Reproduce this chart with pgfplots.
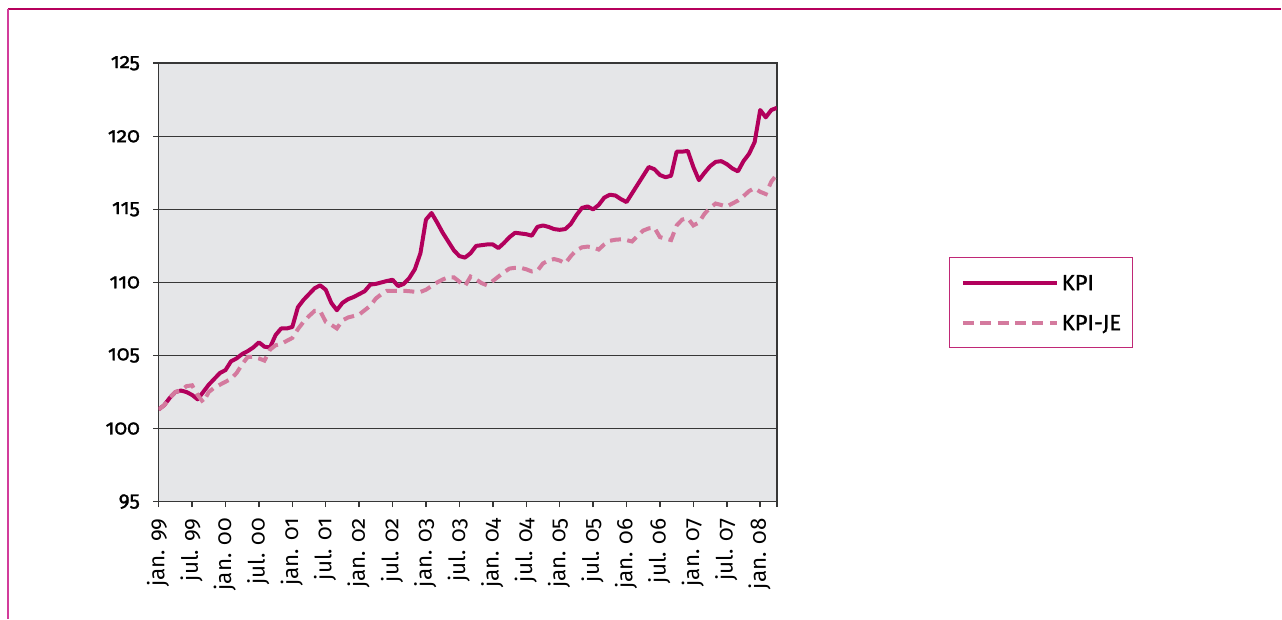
\documentclass[border=0pt]{standalone}
\usepackage{fontspec}
\setmainfont{Fira Sans}[Numbers=OldStyle]
\usepackage{pgfplots}
\pgfplotsset{compat=1.18}
\definecolor{kpi}{RGB}{178,0,92}
\definecolor{kpije}{RGB}{212,122,158}
\definecolor{bggray}{RGB}{229,230,232}
\definecolor{gridc}{RGB}{55,55,55}
\definecolor{legframe}{RGB}{192,40,118}
\definecolor{topb}{RGB}{182,0,92}
\definecolor{leftb}{RGB}{210,60,155}
\begin{document}
\begin{tikzpicture}
\path (0,0) rectangle (641bp,309.5bp);
\draw[topb, line width=1bp] (4bp,304.85bp) -- (641bp,304.85bp);
\draw[leftb, line width=1bp] (4bp,0) -- (4bp,304.85bp);
\begin{axis}[
  at={(79.375bp,58.5bp)}, anchor=south west,
  scale only axis, width=309.375bp, height=219.35bp,
  xmin=0, xmax=111, ymin=95, ymax=125,
  axis background/.style={fill=bggray},
  axis line style={gridc, line width=0.75bp},
  ymajorgrids, major grid style={gridc, line width=0.75bp},
  tick align=outside, major tick length=2.7bp,
  xtick pos=bottom, ytick pos=left,
  tick style={gridc, line width=0.75bp},
  xtick={0,6,...,108},
  extra x ticks={111}, extra x tick labels={},
  xticklabels={jan. 99, jul. 99, jan. 00, jul. 00, jan. 01, jul. 01, jan. 02, jul. 02, jan. 03, jul. 03, jan. 04, jul. 04, jan. 05, jul. 05, jan. 06, jul. 06, jan. 07, jul. 07, jan. 08},
  xticklabel style={rotate=90, anchor=east, font=\fontsize{11.2bp}{12bp}\selectfont, inner sep=0pt, xshift=-5.5bp, yshift=0.3bp},
  ytick={95,100,...,125},
  yticklabel style={font=\fontsize{10.5bp}{12bp}\selectfont\addfontfeature{FakeBold=1.2}, inner sep=0pt, xshift=-6.5bp},
  /pgf/number format/assume math mode=true,
  legend style={at={(1.2788,0.5578)}, anchor=north west, draw=legframe, line width=0.6bp, fill=white,
    inner xsep=5.5bp, inner ysep=2.5bp, column sep=1.5bp, row sep=0pt,
    font=\fontsize{11bp}{12bp}\selectfont\addfontfeature{FakeBold=1.2},
    nodes={inner sep=0pt, minimum height=20bp, text depth=0pt}},
  legend cell align=left,
  legend image code/.code={\draw[#1] (0bp,0bp) -- (47bp,0bp);},
]
\addplot[kpi, line width=2bp, line join=round] table[x=i, y=v] {
i v
0 101.3
1 101.6
2 102.1
3 102.5
4 102.6
5 102.5
6 102.3
7 102.0
8 102.5
9 103.0
10 103.4
11 103.8
12 104.0
13 104.6
14 104.8
15 105.1
16 105.3
17 105.55
18 105.9
19 105.6
20 105.55
21 106.4
22 106.85
23 106.85
24 106.95
25 108.3
26 108.8
27 109.2
28 109.6
29 109.8
30 109.5
31 108.6
32 108.1
33 108.6
34 108.85
35 109.0
36 109.2
37 109.4
38 109.85
39 109.9
40 110.0
41 110.1
42 110.18
43 109.75
44 109.9
45 110.3
46 110.9
47 112.0
48 114.3
49 114.75
50 114.1
51 113.4
52 112.8
53 112.2
54 111.8
55 111.7
56 112.0
57 112.5
58 112.55
59 112.6
60 112.6
61 112.35
62 112.7
63 113.1
64 113.4
65 113.35
66 113.3
67 113.2
68 113.8
69 113.9
70 113.8
71 113.65
72 113.6
73 113.65
74 114.0
75 114.6
76 115.1
77 115.2
78 115.0
79 115.3
80 115.8
81 116.0
82 115.95
83 115.7
84 115.5
85 116.1
86 116.7
87 117.3
88 117.9
89 117.75
90 117.35
91 117.2
92 117.3
93 118.95
94 118.95
95 119.0
96 117.9
97 117.0
98 117.5
99 117.95
100 118.25
101 118.3
102 118.1
103 117.8
104 117.6
105 118.3
106 118.8
107 119.6
108 121.8
109 121.3
110 121.8
111 121.95
};
\addlegendentry{KPI}
\addplot[kpije, line width=2bp, dash pattern=on 5.5bp off 3.2bp] table[x=i, y=v] {
i v
0 101.3
1 101.6
2 102.1
3 102.5
4 102.6
5 102.9
6 102.96
7 102.3
8 101.8
9 102.5
10 102.8
11 103.0
12 103.2
13 103.4
14 103.8
15 104.4
16 104.9
17 104.9
18 104.8
19 104.65
20 105.4
21 105.7
22 105.8
23 106.0
24 106.2
25 106.8
26 107.3
27 107.7
28 108.05
29 108.05
30 107.3
31 107.1
32 106.85
33 107.4
34 107.6
35 107.7
36 107.8
37 108.1
38 108.4
39 108.9
40 109.2
41 109.43
42 109.43
43 109.43
44 109.43
45 109.4
46 109.36
47 109.35
48 109.5
49 109.75
50 110.0
51 110.2
52 110.35
53 110.35
54 110.05
55 109.75
56 110.4
57 110.2
58 109.95
59 109.8
60 110.1
61 110.4
62 110.7
63 110.95
64 111.0
65 111.0
66 110.9
67 110.75
68 110.8
69 111.3
70 111.5
71 111.6
72 111.5
73 111.3
74 111.8
75 112.2
76 112.4
77 112.45
78 112.4
79 112.25
80 112.6
81 112.85
82 112.92
83 112.95
84 112.9
85 112.8
86 113.2
87 113.55
88 113.7
89 113.75
90 113.1
91 113.0
92 112.9
93 113.9
94 114.3
95 114.4
96 113.9
97 114.1
98 114.7
99 115.1
100 115.4
101 115.3
102 115.2
103 115.4
104 115.6
105 115.9
106 116.25
107 116.45
108 116.2
109 116.05
110 116.9
111 117.4
};
\addlegendentry{KPI-JE}
\end{axis}
\end{tikzpicture}
\end{document}
